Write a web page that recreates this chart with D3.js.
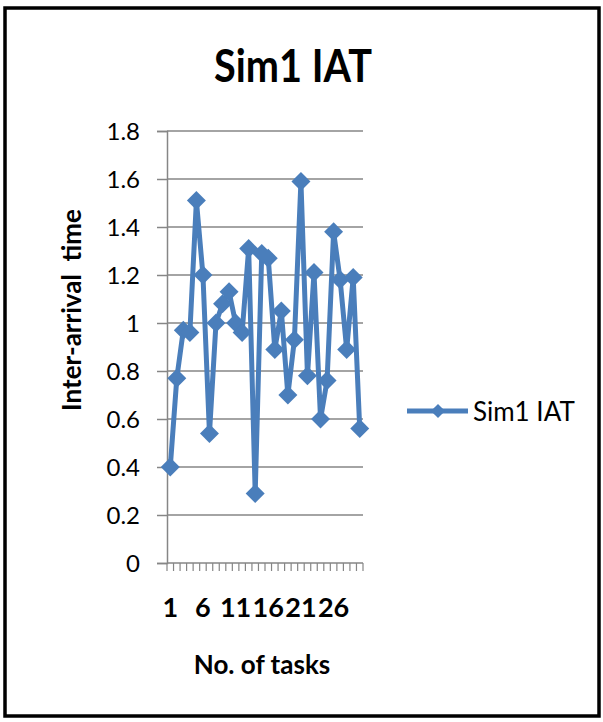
<!DOCTYPE html>
<html>
<head>
<meta charset="utf-8">
<script src="https://cdn.jsdelivr.net/npm/d3@7"></script>
<style>
  html, body { margin: 0; padding: 0; background: #fff; }
  svg { display: block; }
  text { font-family: Lato, "DejaVu Sans", sans-serif; fill: #000; }
</style>
</head>
<body>
<div id="chart"></div>
<script>
// Data
const tasks = d3.range(1, 31);
const iatValues = [0.40, 0.77, 0.97, 0.96, 1.51, 1.20, 0.54, 1.00, 1.08, 1.13,
                   1.00, 0.96, 1.31, 0.29, 1.29, 1.27, 0.89, 1.05, 0.70, 0.93,
                   1.59, 0.78, 1.21, 0.60, 0.76, 1.38, 1.18, 0.89, 1.19, 0.56];
const yTicks = [0, 0.2, 0.4, 0.6, 0.8, 1, 1.2, 1.4, 1.6, 1.8];
const xLabels = [1, 6, 11, 16, 21, 26];
const seriesName = 'Sim1 IAT';

const W = 603, H = 722;
const plot = { left: 167, right: 363, top: 131, bottom: 563 };
const blue = '#4a7ebb';
const grey = '#868686';

const svg = d3.select('#chart')
  .append('svg')
  .attr('width', W)
  .attr('height', H);

// Frame
svg.append('rect')
  .attr('x', 5).attr('y', 8)
  .attr('width', 594).attr('height', 708)
  .attr('fill', '#fff')
  .attr('stroke', '#000')
  .attr('stroke-width', 3.5);

const x = d3.scaleBand()
  .domain(tasks)
  .range([plot.left, plot.right]);

const y = d3.scaleLinear()
  .domain([0, 1.8])
  .range([plot.bottom, plot.top]);

// Title
svg.append('text')
  .attr('x', 293)
  .attr('y', 82)
  .attr('text-anchor', 'middle')
  .attr('textLength', 158)
  .attr('lengthAdjust', 'spacingAndGlyphs')
  .style('font-size', '46px')
  .style('font-weight', 'bold')
  .text(seriesName);

// Gridlines
svg.append('g')
  .selectAll('line')
  .data(yTicks.filter(d => d > 0))
  .enter().append('line')
  .attr('x1', plot.left)
  .attr('x2', plot.right)
  .attr('y1', d => y(d))
  .attr('y2', d => y(d))
  .attr('stroke', grey)
  .attr('stroke-width', 1.5);

// Y axis
const yAxis = svg.append('g')
  .attr('transform', `translate(${plot.left},0)`)
  .call(d3.axisLeft(y).tickValues(yTicks).tickSize(10).tickPadding(17).tickFormat(d => String(d)));
yAxis.select('.domain').attr('stroke', grey).attr('stroke-width', 1.5);
yAxis.selectAll('.tick line').attr('stroke', grey).attr('stroke-width', 1.5);
yAxis.selectAll('.tick text')
  .style('font-family', 'Lato, sans-serif')
  .style('font-size', '24px')
  .attr('dy', '0.36em');

// X axis
const xAxis = svg.append('g')
  .attr('transform', `translate(0,${plot.bottom})`);
xAxis.append('line')
  .attr('x1', plot.left).attr('x2', plot.right)
  .attr('stroke', grey).attr('stroke-width', 1.5);
xAxis.selectAll('.xtick')
  .data(tasks.map(d => x(d)).concat([x(tasks[tasks.length - 1]) + x.bandwidth()]))
  .enter().append('line')
  .attr('class', 'xtick')
  .attr('x1', d => d).attr('x2', d => d)
  .attr('y1', 0).attr('y2', 8)
  .attr('stroke', grey).attr('stroke-width', 1.2);
xAxis.selectAll('.xlabel')
  .data(xLabels)
  .enter().append('text')
  .attr('class', 'xlabel')
  .attr('x', d => x(d) + x.bandwidth() / 2)
  .attr('y', 54)
  .attr('text-anchor', 'middle')
  .style('font-size', '27px')
  .style('font-weight', 'bold')
  .text(d => d);

// Axis titles
svg.append('text')
  .attr('transform', 'translate(81,310) rotate(-90)')
  .attr('text-anchor', 'middle')
  .style('font-size', '26px')
  .style('font-weight', 'bold')
  .style('white-space', 'pre')
  .text('Inter-arrival  time');

svg.append('text')
  .attr('x', 262)
  .attr('y', 674)
  .attr('text-anchor', 'middle')
  .style('font-size', '26px')
  .style('font-weight', 'bold')
  .text('No. of tasks');

// Series line
const line = d3.line()
  .x((d, i) => x(tasks[i]) + x.bandwidth() / 2)
  .y(d => y(d));

svg.append('path')
  .datum(iatValues)
  .attr('fill', 'none')
  .attr('stroke', blue)
  .attr('stroke-width', 5)
  .attr('stroke-linejoin', 'round')
  .attr('d', line);

// Diamond markers
const diamond = d3.symbol().type(d3.symbolSquare).size(180);
svg.selectAll('.dot')
  .data(iatValues)
  .enter().append('path')
  .attr('class', 'dot')
  .attr('d', diamond)
  .attr('transform', (d, i) => `translate(${x(tasks[i]) + x.bandwidth() / 2},${y(d)}) rotate(45)`)
  .attr('fill', blue);

// Legend
const legend = svg.append('g').attr('transform', 'translate(407,411)');
legend.append('line')
  .attr('x1', 0).attr('x2', 61)
  .attr('stroke', blue).attr('stroke-width', 5);
legend.append('path')
  .attr('d', d3.symbol().type(d3.symbolSquare).size(100))
  .attr('transform', 'translate(31,0) rotate(45)')
  .attr('fill', blue);
legend.append('text')
  .attr('x', 66)
  .attr('y', 10)
  .style('font-size', '26px')
  .text(seriesName);
</script>
</body>
</html>
